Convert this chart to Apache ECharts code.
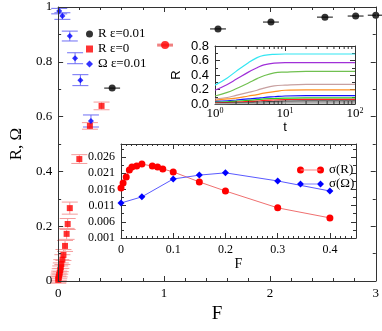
<!DOCTYPE html>
<html>
<head>
<meta charset="utf-8">
<script src="https://cdn.jsdelivr.net/npm/echarts@6/dist/echarts.min.js"></script>
<style>
  html, body { margin: 0; padding: 0; background: #fff; }
  #main { width: 382px; height: 331px; }
</style>
</head>
<body>
<div id="main"></div>
<script>
// main plot: R and Omega vs F
const blackF = [0.51, 1.51, 2.01, 2.52, 2.81, 3.0];
const blackR = [0.704, 0.92, 0.945, 0.963, 0.967, 0.97];
const blackErrF = [0.075, 0.075, 0.075, 0.075, 0.075, 0.075];

const redF = [0.41, 0.3, 0.2, 0.11, 0.09, 0.08, 0.065, 0.05, 0.04, 0.03, 0.025, 0.02, 0.015, 0.01, 0.006, 0.003, 0.001];
const redR = [0.639, 0.566, 0.445, 0.266, 0.208, 0.172, 0.128, 0.095, 0.078, 0.062, 0.05, 0.04, 0.03, 0.022, 0.015, 0.009, 0.004];
const redErr = [0.014, 0.012, 0.016, 0.022, 0.02, 0.02, 0.02, 0.02, 0.018, 0.016, 0.016, 0.015, 0.015, 0.014, 0.014, 0.013, 0.012];

const redBigF = [1.01];
const redBigR = [0.861];
const redBigErrF = [0.075];

const blueF = [0.01, 0.04, 0.11, 0.16, 0.21, 0.31];
const blueOmega = [0.985, 0.967, 0.894, 0.813, 0.733, 0.584];
const blueErr = [0.01, 0.012, 0.018, 0.02, 0.02, 0.022];

// inset 1: R vs t
const tVals = [1, 1.5, 2, 3, 4, 5, 7, 10, 20, 50, 100];
const tMinor = [2, 3, 4, 5, 6, 7, 8, 9, 20, 30, 40, 50, 60, 70, 80, 90];
const rCyan   = [0.26, 0.36, 0.45, 0.57, 0.64, 0.67, 0.685, 0.69, 0.69, 0.69, 0.69];
const rPurple = [0.19, 0.27, 0.34, 0.44, 0.50, 0.54, 0.565, 0.57, 0.57, 0.57, 0.57];
const rGreen  = [0.11, 0.16, 0.21, 0.29, 0.35, 0.39, 0.43, 0.44, 0.45, 0.45, 0.45];
const rRosy   = [0.07, 0.09, 0.12, 0.16, 0.19, 0.22, 0.25, 0.26, 0.27, 0.27, 0.27];
const rOrange = [0.05, 0.07, 0.08, 0.11, 0.13, 0.15, 0.17, 0.19, 0.195, 0.195, 0.195];
const rBlue   = [0.035, 0.045, 0.055, 0.07, 0.08, 0.09, 0.10, 0.11, 0.115, 0.115, 0.115];
const rLime   = [0.025, 0.03, 0.04, 0.05, 0.06, 0.07, 0.075, 0.08, 0.085, 0.085, 0.085];
const rRed    = [0.015, 0.02, 0.025, 0.035, 0.04, 0.05, 0.055, 0.06, 0.065, 0.065, 0.065];
const rDark   = [0.01, 0.012, 0.015, 0.02, 0.025, 0.03, 0.035, 0.04, 0.042, 0.042, 0.042];
const rGray   = [0.005, 0.007, 0.009, 0.012, 0.015, 0.018, 0.022, 0.025, 0.027, 0.027, 0.027];
const rLight  = [0.002, 0.003, 0.004, 0.006, 0.007, 0.009, 0.011, 0.012, 0.013, 0.013, 0.013];
const insetCurves = [
  { vals: rCyan, color: "#33e6f2" },
  { vals: rPurple, color: "#a030d8" },
  { vals: rGreen, color: "#70c050" },
  { vals: rRosy, color: "#c8a0a0" },
  { vals: rOrange, color: "#ff9020" },
  { vals: rBlue, color: "#1010ff" },
  { vals: rLime, color: "#20d020" },
  { vals: rRed, color: "#ff2020" },
  { vals: rDark, color: "#404040" },
  { vals: rGray, color: "#909090" },
  { vals: rLight, color: "#b0b0b0" },
];

// inset 2: sigma vs F
const sigF_R = [0, 0.004, 0.01, 0.016, 0.021, 0.03, 0.04, 0.06, 0.07, 0.08, 0.1, 0.15, 0.2, 0.3, 0.4];
const sigR   = [0.0164, 0.018, 0.0198, 0.022, 0.0229, 0.0232, 0.0238, 0.0232, 0.0229, 0.0223, 0.0214, 0.0183, 0.0155, 0.0103, 0.0072];
const sigF_O = [0, 0.04, 0.1, 0.15, 0.2, 0.3, 0.4];
const sigOmega = [0.0118, 0.0137, 0.0192, 0.0204, 0.0211, 0.0186, 0.0155];

const serif = "Liberation Serif";
const sans = "Liberation Sans";
const axisCol = "#333";

function zip(a, b, c) {
  return a.map((v, i) => (c ? [v, b[i], c[i]] : [v, b[i]]));
}

function vErr(color, cap) {
  return function (params, api) {
    const x = api.value(0), y = api.value(1), e = api.value(2);
    const hi = api.coord([x, y + e]);
    const lo = api.coord([x, y - e]);
    const st = { stroke: color, lineWidth: 1 };
    return {
      type: "group",
      children: [
        { type: "line", shape: { x1: hi[0], y1: hi[1], x2: lo[0], y2: lo[1] }, style: st },
        { type: "line", shape: { x1: hi[0] - cap, y1: hi[1], x2: hi[0] + cap, y2: hi[1] }, style: st },
        { type: "line", shape: { x1: lo[0] - cap, y1: lo[1], x2: lo[0] + cap, y2: lo[1] }, style: st },
      ],
    };
  };
}

function hErr(color, width) {
  return function (params, api) {
    const x = api.value(0), y = api.value(1), e = api.value(2);
    const l = api.coord([x - e, y]);
    const r = api.coord([x + e, y]);
    return {
      type: "line",
      shape: { x1: l[0], y1: l[1], x2: r[0], y2: r[1] },
      style: { stroke: color, lineWidth: width },
    };
  };
}

function logMinorTicks(params, api) {
  const b = api.coord([api.value(0), 0]);
  const t = api.coord([api.value(0), 0.8]);
  const st = { stroke: axisCol, lineWidth: 1 };
  return {
    type: "group",
    children: [
      { type: "line", shape: { x1: b[0], y1: b[1], x2: b[0], y2: b[1] - 3 }, style: st },
      { type: "line", shape: { x1: t[0], y1: t[1], x2: t[0], y2: t[1] + 3 }, style: st },
    ],
  };
}

function frameAxis(extra) {
  return Object.assign({
    z: 12,
    axisLine: { show: true, onZero: false, lineStyle: { color: axisCol, width: 1 } },
    axisTick: { show: true, inside: true, length: 5, lineStyle: { color: axisCol } },
    minorTick: { show: true, length: 3, lineStyle: { color: axisCol } },
    splitLine: { show: false },
    minorSplitLine: { show: false },
  }, extra);
}

const chart = echarts.init(document.getElementById("main"));

const insetLineSeries = insetCurves.map((c) => ({
  type: "line",
  xAxisIndex: 2,
  yAxisIndex: 2,
  data: zip(tVals, c.vals),
  smooth: 0.4,
  symbol: "none",
  lineStyle: { color: c.color, width: 1.2 },
  z: 20,
  silent: true,
}));

const option = {
  animation: false,
  backgroundColor: "#fff",
  grid: [
    { left: 49, right: 4, top: 7, bottom: 50 },
    { left: 215, top: 46, width: 140, height: 58, show: true, backgroundColor: "#fff", borderWidth: 0, z: 10 },
    { left: 121, top: 144, width: 235, height: 94, show: true, backgroundColor: "#fff", borderWidth: 0, z: 10 },
  ],
  legend: [
    {
      orient: "vertical",
      left: 81,
      top: 22,
      itemWidth: 7,
      itemHeight: 7,
      itemGap: 1,
      selectedMode: false,
      textStyle: { fontFamily: serif, fontSize: 13, color: "#000", lineHeight: 14 },
      data: [
        { name: "R ε=0.01", icon: "circle" },
        { name: "R ε=0", icon: "rect" },
        { name: "Ω ε=0.01", icon: "diamond" },
      ],
    },
    {
      orient: "vertical",
      left: 292,
      top: 158,
      itemWidth: 27,
      itemHeight: 7,
      itemGap: 0,
      selectedMode: false,
      z: 30,
      textStyle: { fontFamily: serif, fontSize: 13, color: "#000", lineHeight: 14 },
      data: [
        { name: "σ(R)", icon: "path://M0,3.5a3.5,3.5 0 1,0 7,0a3.5,3.5 0 1,0 -7,0ZM20,3.5a3.5,3.5 0 1,0 7,0a3.5,3.5 0 1,0 -7,0ZM3.5,3.2h20v0.6h-20Z" },
        { name: "σ(Ω)", icon: "path://M3.5,0L7,3.5L3.5,7L0,3.5ZM23.5,0L27,3.5L23.5,7L20,3.5ZM3.5,3.2h20v0.6h-20Z" },
      ],
    },
  ],
  xAxis: [
    frameAxis({
      gridIndex: 0, type: "value", min: 0, max: 3, interval: 1, position: "bottom",
      minorTick: { show: true, splitNumber: 5, length: 3, lineStyle: { color: axisCol } },
      axisLabel: { fontFamily: serif, fontSize: 13, color: "#000", margin: 6 },
      name: "F", nameLocation: "middle", nameGap: 15,
      nameTextStyle: { fontFamily: serif, fontSize: 19, color: "#000" },
    }),
    frameAxis({
      gridIndex: 0, type: "value", min: 0, max: 3, interval: 1, position: "top",
      minorTick: { show: true, splitNumber: 5, length: 3, lineStyle: { color: axisCol } },
      axisLabel: { show: false },
    }),
    frameAxis({
      gridIndex: 1, type: "log", logBase: 10, min: 1, max: 100, position: "bottom",
      minorTick: { show: false },
      axisLabel: {
        margin: 3,
        formatter: (v) => "{b|10}{s|" + Math.round(Math.log10(v)) + "}",
        rich: {
          b: { fontFamily: serif, fontSize: 13, color: "#000", verticalAlign: "bottom" },
          s: { fontFamily: serif, fontSize: 8, color: "#000", verticalAlign: "top" },
        },
      },
      name: "t", nameLocation: "middle", nameGap: 13,
      nameTextStyle: { fontFamily: sans, fontSize: 13, color: "#000" },
    }),
    frameAxis({
      gridIndex: 1, type: "log", logBase: 10, min: 1, max: 100, position: "top",
      minorTick: { show: false },
      axisLabel: { show: false },
    }),
    frameAxis({
      gridIndex: 2, type: "value", min: 0, max: 0.45, interval: 0.1, position: "bottom",
      minorTick: { show: true, splitNumber: 10, length: 2, lineStyle: { color: axisCol } },
      axisLabel: { fontFamily: serif, fontSize: 12, color: "#000", margin: 6, showMaxLabel: false },
      name: "F", nameLocation: "middle", nameGap: 19,
      nameTextStyle: { fontFamily: serif, fontSize: 14, color: "#000" },
    }),
    frameAxis({
      gridIndex: 2, type: "value", min: 0, max: 0.45, interval: 0.1, position: "top",
      minorTick: { show: true, splitNumber: 10, length: 2, lineStyle: { color: axisCol } },
      axisLabel: { show: false },
    }),
  ],
  yAxis: [
    frameAxis({
      gridIndex: 0, type: "value", min: 0, max: 1, interval: 0.2, position: "left",
      minorTick: { show: true, splitNumber: 2, length: 3, lineStyle: { color: axisCol } },
      axisLabel: { fontFamily: serif, fontSize: 13, color: "#000", margin: 6 },
      name: "R, Ω", nameLocation: "middle", nameGap: 30,
      nameTextStyle: { fontFamily: serif, fontSize: 17, color: "#000" },
    }),
    frameAxis({
      gridIndex: 0, type: "value", min: 0, max: 1, interval: 0.2, position: "right",
      minorTick: { show: true, splitNumber: 2, length: 3, lineStyle: { color: axisCol } },
      axisLabel: { show: false },
    }),
    frameAxis({
      gridIndex: 1, type: "value", min: 0, max: 0.8, interval: 0.2, position: "left",
      minorTick: { show: true, splitNumber: 2, length: 3, lineStyle: { color: axisCol } },
      axisLabel: { fontFamily: sans, fontSize: 13, color: "#000", margin: 6, formatter: (v) => v.toFixed(1) },
      name: "R", nameLocation: "middle", nameGap: 32,
      nameTextStyle: { fontFamily: sans, fontSize: 13, color: "#000" },
    }),
    frameAxis({
      gridIndex: 1, type: "value", min: 0, max: 0.8, interval: 0.2, position: "right",
      minorTick: { show: true, splitNumber: 2, length: 3, lineStyle: { color: axisCol } },
      axisLabel: { show: false },
    }),
    frameAxis({
      gridIndex: 2, type: "value", min: 0.001, max: 0.03, interval: 0.005, position: "left",
      minorTick: { show: true, splitNumber: 2, length: 3, lineStyle: { color: axisCol } },
      axisLabel: { fontFamily: serif, fontSize: 12, color: "#000", margin: 6, showMaxLabel: false, formatter: (v) => v.toFixed(3) },
    }),
    frameAxis({
      gridIndex: 2, type: "value", min: 0.001, max: 0.03, interval: 0.005, position: "right",
      minorTick: { show: true, splitNumber: 2, length: 3, lineStyle: { color: axisCol } },
      axisLabel: { show: false },
    }),
  ],
  series: [
    // error bars first so the points sit on top
    { type: "custom", name: "errBlack", xAxisIndex: 0, yAxisIndex: 0, clip: false, silent: true,
      data: zip(blackF, blackR, blackErrF), renderItem: hErr("#333", 1.2), z: 3 },
    { type: "custom", name: "errRed", xAxisIndex: 0, yAxisIndex: 0, clip: false, silent: true,
      data: zip(redF, redR, redErr), renderItem: vErr("#f59a9a", 8), z: 3 },
    { type: "custom", name: "errRedBig", xAxisIndex: 0, yAxisIndex: 0, clip: false, silent: true,
      data: zip(redBigF, redBigR, redBigErrF), renderItem: hErr("#f08080", 3), z: 3 },
    { type: "custom", name: "errBlue", xAxisIndex: 0, yAxisIndex: 0, clip: false, silent: true,
      data: zip(blueF, blueOmega, blueErr), renderItem: vErr("#6f6ff5", 8), z: 3 },
    { type: "scatter", name: "R ε=0.01", xAxisIndex: 0, yAxisIndex: 0, clip: false,
      data: zip(blackF, blackR), symbol: "circle", symbolSize: 7, itemStyle: { color: "#000" }, z: 5 },
    { type: "scatter", name: "R ε=0", xAxisIndex: 0, yAxisIndex: 0, clip: false,
      data: zip(redF, redR), symbol: "rect", symbolSize: 6, itemStyle: { color: "#ff0000" }, z: 5 },
    { type: "scatter", name: "R ε=0 big", xAxisIndex: 0, yAxisIndex: 0, clip: false,
      data: zip(redBigF, redBigR), symbol: "circle", symbolSize: 8, itemStyle: { color: "#ff0000" }, z: 5 },
    { type: "scatter", name: "Ω ε=0.01", xAxisIndex: 0, yAxisIndex: 0, clip: false,
      data: zip(blueF, blueOmega), symbol: "diamond", symbolSize: 6, itemStyle: { color: "#0000ff" }, z: 5 },

    // inset 1
    ...insetLineSeries,
    { type: "custom", name: "logMinor", xAxisIndex: 2, yAxisIndex: 2, silent: true,
      data: tMinor.map((t) => [t]), renderItem: logMinorTicks, z: 21 },

    // inset 2
    { type: "line", name: "σ(R)", xAxisIndex: 4, yAxisIndex: 4, data: zip(sigF_R, sigR),
      symbol: "circle", symbolSize: 7, itemStyle: { color: "#ff0000" },
      lineStyle: { color: "#f07070", width: 1 }, z: 20 },
    { type: "line", name: "σ(Ω)", xAxisIndex: 4, yAxisIndex: 4, data: zip(sigF_O, sigOmega),
      symbol: "diamond", symbolSize: 7, itemStyle: { color: "#0000ff" },
      lineStyle: { color: "#5a5aff", width: 1 }, z: 20 },
  ],
};

chart.setOption(option);
</script>
</body>
</html>
